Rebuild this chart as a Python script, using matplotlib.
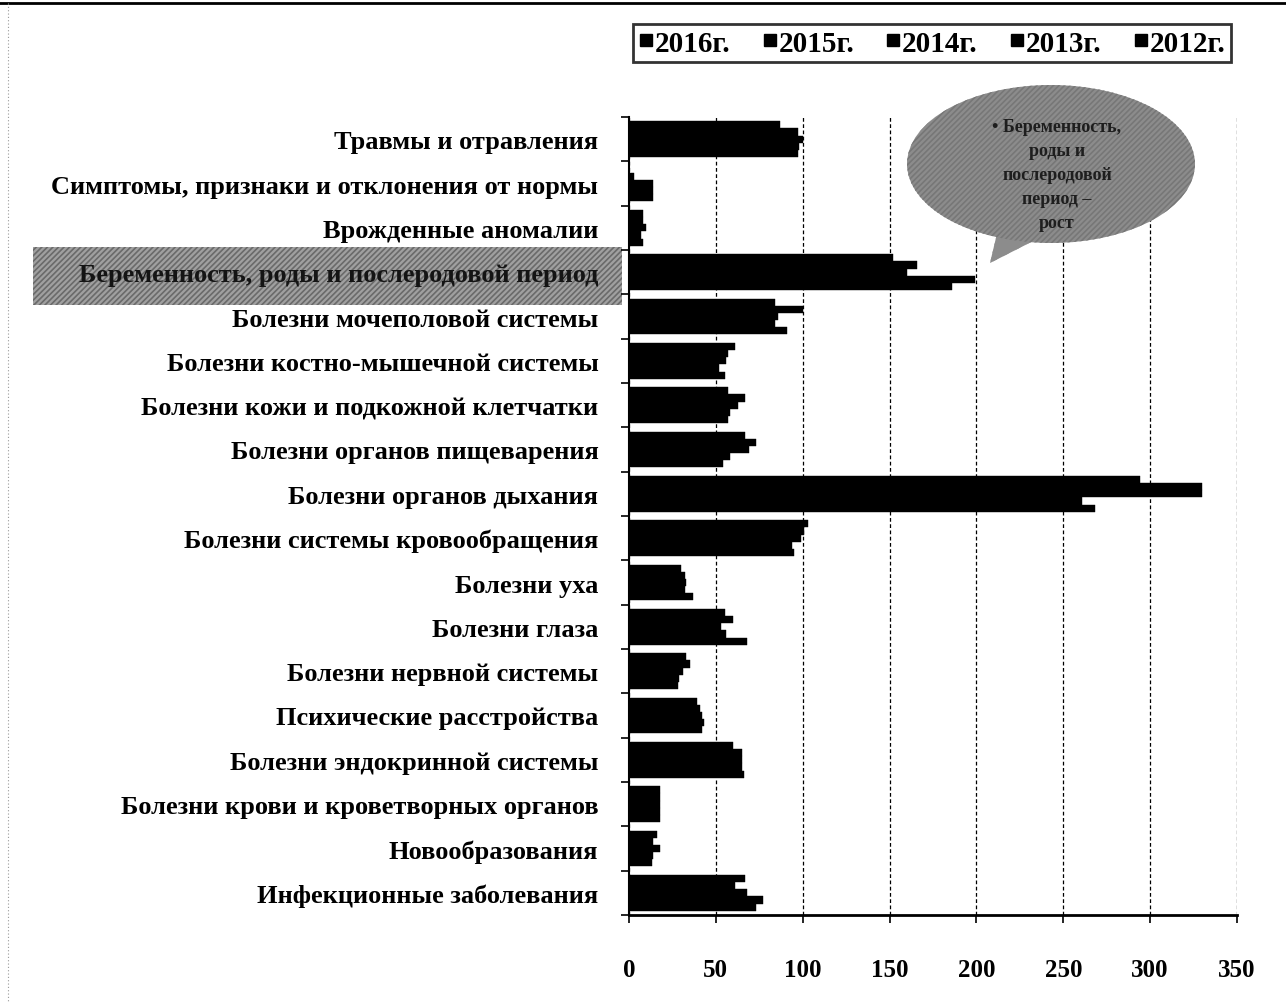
import matplotlib
matplotlib.use("Agg")
import matplotlib.pyplot as plt
from matplotlib.patches import Rectangle, Ellipse, Polygon
from matplotlib.lines import Line2D
import numpy as np

plt.rcParams['font.family'] = ['Liberation Serif', 'DejaVu Serif']
plt.rcParams['font.weight'] = 'bold'
plt.rcParams['hatch.linewidth'] = 1.2

# categories bottom -> top
categories = [
    "Инфекционные заболевания",
    "Новообразования",
    "Болезни крови и кроветворных органов",
    "Болезни эндокринной системы",
    "Психические расстройства",
    "Болезни нервной системы",
    "Болезни глаза",
    "Болезни уха",
    "Болезни системы кровообращения",
    "Болезни органов дыхания",
    "Болезни органов пищеварения",
    "Болезни кожи и подкожной клетчатки",
    "Болезни костно-мышечной системы",
    "Болезни мочеполовой системы",
    "Беременность, роды и послеродовой период",
    "Врожденные аномалии",
    "Симптомы, признаки и отклонения от нормы",
    "Травмы и отравления",
]
series_names = ["2016г.", "2015г.", "2014г.", "2013г.", "2012г."]

v2016 = [73, 13, 18, 66, 42, 28, 68, 37, 95, 268, 54, 57, 55, 91, 186, 8, 14, 97]
v2015 = [77, 14, 18, 65, 43, 29, 56, 32, 94, 261, 58, 58, 52, 84, 199, 7, 14, 98]
v2014 = [68, 18, 18, 65, 42, 31, 53, 33, 99, 330, 69, 63, 56, 86, 160, 10, 14, 100]
v2013 = [61, 14, 18, 65, 41, 35, 60, 32, 101, 330, 73, 67, 57, 100, 166, 8, 3, 97]
v2012 = [67, 16, 18, 60, 39, 33, 55, 30, 103, 294, 67, 57, 61, 84, 152, 8, 0, 87]
values = [v2016, v2015, v2014, v2013, v2012]

W, H = 1286, 1004
fig = plt.figure(figsize=(W / 100, H / 100), dpi=100)

def fx(px):
    return px / W

def fy(py):
    return 1 - py / H

# highlighted label background (drawn below the axes)
fig.patches.append(Rectangle((fx(33), fy(306)), fx(589), 58 / H, transform=fig.transFigure,
                             facecolor='#a0a0a0', edgecolor='#6a6a6a', hatch='//////',
                             linewidth=0, zorder=-5))

ax = fig.add_axes([fx(629), fy(916), (1237 - 629) / W, (916 - 118) / H])
ax.set_facecolor('none')

y = np.arange(len(categories))
bh = 0.162
offsets = [-2, -1, 0, 1, 2]
for vals, off, name in zip(values, offsets, series_names):
    ax.barh(y + off * bh, vals, height=bh, color='black', edgecolor='black', linewidth=0.3,
            label=name, zorder=3)

ax.set_xlim(0, 350)
ax.set_ylim(-0.5, len(categories) - 0.5)
ax.set_xticks(np.arange(0, 351, 50))
ax.set_yticks(y)
ax.set_yticklabels(categories)
ax.set_yticks(np.arange(-0.5, len(categories), 1.0), minor=True)
ax.tick_params(axis='y', which='major', length=0, pad=22, labelsize=19)
ax.tick_params(axis='y', which='minor', length=6, width=1.2, direction='out')
ax.tick_params(axis='x', which='major', length=6, width=1.2, pad=25, labelsize=18)
for lab in ax.get_xticklabels() + ax.get_yticklabels():
    lab.set_fontweight('bold')
ax.get_yticklabels()[14].set_color('#141414')

ax.grid(axis='x', color='black', linestyle=(0, (3, 2)), linewidth=0.9, zorder=1)
for s in ['top', 'right']:
    ax.spines[s].set_visible(False)
ax.spines['left'].set_linewidth(1.5)
ax.spines['bottom'].set_linewidth(2.0)

# legend
handles = [Line2D([0], [0], marker='s', color='none', markerfacecolor='black',
                  markeredgecolor='black', markersize=8) for _ in series_names]
leg = fig.legend(handles, series_names, loc='center', ncol=5,
                 bbox_to_anchor=(fx(932), fy(44)), frameon=True, fancybox=False,
                 handlelength=0.5, handletextpad=0.05, columnspacing=1.1,
                 borderpad=0.2, borderaxespad=0,
                 prop={'family': 'Liberation Serif', 'weight': 'bold', 'size': 21})
leg.get_frame().set_edgecolor('black')
leg.get_frame().set_linewidth(2.0)

# speech bubble
fig.patches.append(Polygon([(fx(990), fy(264)), (fx(1000), fy(222)), (fx(1045), fy(236))],
                           closed=True, transform=fig.transFigure, facecolor='#8c8c8c',
                           edgecolor='#8c8c8c', hatch='//////', linewidth=0, zorder=5))
fig.patches.append(Ellipse((fx(1051), fy(165)), 288 / W, 158 / H, transform=fig.transFigure,
                           facecolor='#8c8c8c', edgecolor='#777777', hatch='//////',
                           linewidth=0, zorder=5))
bubble_lines = ["• Беременность,", "роды и", "послеродовой", "период –", "рост"]
for i, t in enumerate(bubble_lines):
    fig.text(fx(1057), fy(128 + i * 24), t, ha='center', va='center', fontsize=13,
             fontweight='bold', color='#1e1e1e', zorder=6)

# frame lines of the scan
fig.add_artist(Line2D([0, 1], [fy(4), fy(4)], transform=fig.transFigure, color='black', linewidth=2))
fig.add_artist(Line2D([fx(8), fx(8)], [fy(4), 0], transform=fig.transFigure, color='#999999',
                      linewidth=0.8, linestyle=(0, (1, 2))))

fig.savefig("out.png", dpi=100)
